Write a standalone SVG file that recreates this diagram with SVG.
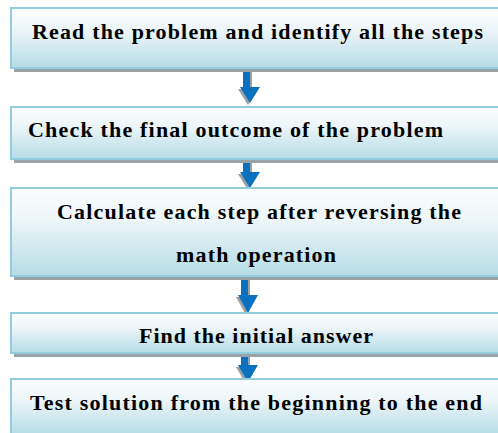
<svg xmlns="http://www.w3.org/2000/svg" width="498" height="433" viewBox="0 0 498 433">
<defs>
<linearGradient id="g" x1="0" y1="0" x2="0" y2="1">
<stop offset="0" stop-color="#fbfdfe"/>
<stop offset="0.35" stop-color="#eef6f9"/>
<stop offset="1" stop-color="#b5dce6"/>
</linearGradient>
</defs>
<style>
.sh{fill:#97a3a6}
.bx{fill:url(#g);stroke:#93cddd;stroke-width:2}
.t{font-family:"Liberation Serif","Times New Roman",serif;font-weight:bold;font-size:22px;fill:#000}
.ar{fill:#0a70c0}
.as{fill:#9aa0a3}
</style>
<rect width="498" height="433" fill="#fff"/>
<g id="connectors">
<g transform="translate(246.5,0)">
<path class="as" d="M-1.5,70h7v19h6l-10,16l-10,-16h7z"/>
<path class="ar" d="M-3.5,68h7v19h10l-10,16l-10,-16h3z"/>
</g>
<g transform="translate(246.5,0)">
<path class="as" d="M-1.5,161h7v13h6l-10,16l-10,-16h7z"/>
<path class="ar" d="M-3.5,159h7v13h10l-10,16l-10,-16h3z"/>
</g>
<g transform="translate(244.5,0)">
<path class="as" d="M-1.5,279h7v18h6l-10,18l-10,-18h7z"/>
<path class="ar" d="M-3.5,277h7v18h10l-10,18l-10,-18h3z"/>
</g>
<g transform="translate(244.5,0)">
<path class="as" d="M-1.5,357h7v10h6l-10,17l-10,-17h7z"/>
<path class="ar" d="M-3.5,355h7v10h10l-10,17l-10,-17h3z"/>
</g>
</g>
<g id="n1">
<rect class="sh" x="14" y="68" width="486" height="4"/>
<rect class="bx" x="11" y="8" width="488" height="60"/>
<text class="t" x="32" y="39" textLength="451">Read the problem and identify all the steps</text>
</g>
<g id="n2">
<rect class="sh" x="14" y="159" width="486" height="4"/>
<rect class="bx" x="11" y="107" width="488" height="52"/>
<text class="t" x="28" y="137" textLength="415">Check the final outcome of the problem</text>
</g>
<g id="n3">
<rect class="sh" x="14" y="276" width="486" height="4"/>
<rect class="bx" x="11" y="188" width="488" height="88"/>
<text class="t" x="57" y="219" textLength="404">Calculate each step after reversing the</text>
<text class="t" x="176" y="262" textLength="160">math operation</text>
</g>
<g id="n4">
<rect class="sh" x="14" y="353" width="486" height="4"/>
<rect class="bx" x="11" y="313" width="488" height="40"/>
<text class="t" x="139" y="343" textLength="234">Find the initial answer</text>
</g>
<g id="n5">
<rect class="bx" x="11" y="379" width="488" height="56"/>
<text class="t" x="30" y="410" textLength="452">Test solution from the beginning to the end</text>
</g>
</svg>
